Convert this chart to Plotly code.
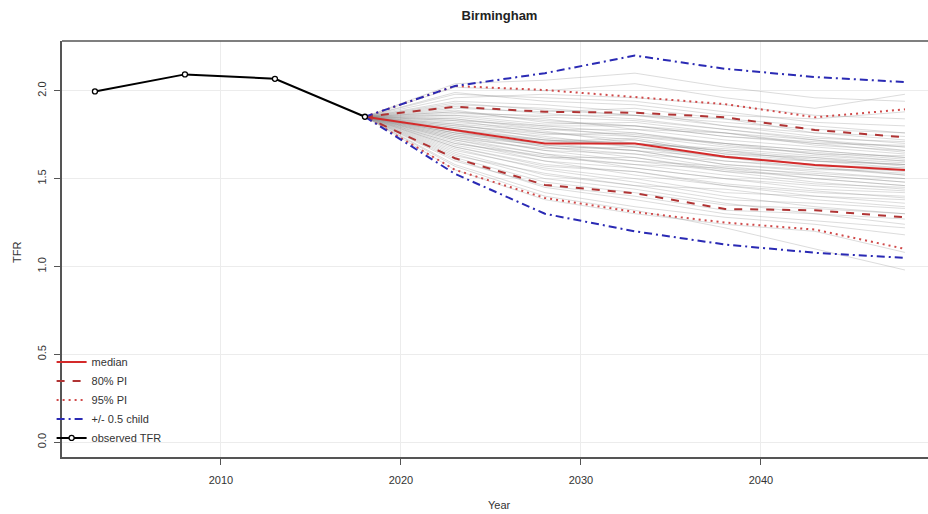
import plotly.graph_objects as go

# ---------------- data ----------------
obs_years = [2003, 2008, 2013, 2018]
obs_tfr = [1.996, 2.093, 2.068, 1.852]

proj_years = [2018, 2023, 2028, 2033, 2038, 2043, 2048]
median = [1.852, 1.777, 1.700, 1.700, 1.625, 1.578, 1.549]
pi80_up = [1.852, 1.909, 1.880, 1.875, 1.849, 1.777, 1.735]
pi80_lo = [1.852, 1.616, 1.464, 1.417, 1.327, 1.320, 1.280]
pi95_up = [1.852, 2.027, 2.004, 1.966, 1.924, 1.849, 1.894]
pi95_lo = [1.852, 1.550, 1.390, 1.310, 1.250, 1.210, 1.100]
half_up = [1.852, 2.027, 2.100, 2.200, 2.125, 2.078, 2.049]
half_lo = [1.852, 1.527, 1.300, 1.200, 1.125, 1.078, 1.049]

# sampled trajectories (values at 2023..2048, all start at the 2018 observed value)
trajectories = [
    [1.78, 1.72, 1.70, 1.66, 1.60, 1.58], [1.83, 1.80, 1.76, 1.70, 1.66, 1.62],
    [1.70, 1.62, 1.58, 1.52, 1.47, 1.45], [1.88, 1.85, 1.83, 1.78, 1.72, 1.68],
    [1.74, 1.66, 1.64, 1.56, 1.53, 1.50], [1.92, 1.90, 1.86, 1.84, 1.76, 1.74],
    [1.65, 1.52, 1.46, 1.38, 1.36, 1.33], [1.80, 1.76, 1.74, 1.70, 1.64, 1.60],
    [1.76, 1.70, 1.72, 1.64, 1.62, 1.57], [1.62, 1.48, 1.42, 1.35, 1.33, 1.30],
    [1.98, 1.96, 1.94, 1.88, 1.82, 1.80], [1.72, 1.64, 1.60, 1.57, 1.52, 1.48],
    [1.85, 1.80, 1.80, 1.74, 1.70, 1.69], [1.79, 1.74, 1.68, 1.60, 1.56, 1.52],
    [1.68, 1.58, 1.54, 1.46, 1.40, 1.38], [1.90, 1.88, 1.90, 1.84, 1.80, 1.76],
    [1.75, 1.70, 1.66, 1.58, 1.55, 1.55], [1.58, 1.42, 1.34, 1.28, 1.24, 1.18],
    [1.82, 1.78, 1.78, 1.72, 1.68, 1.64], [1.77, 1.68, 1.62, 1.55, 1.50, 1.46],
    [2.02, 2.00, 2.04, 1.96, 1.90, 1.98], [1.73, 1.67, 1.68, 1.62, 1.58, 1.56],
    [1.66, 1.56, 1.50, 1.42, 1.40, 1.36], [1.86, 1.84, 1.78, 1.76, 1.72, 1.66],
    [1.81, 1.73, 1.70, 1.67, 1.63, 1.60], [1.71, 1.60, 1.56, 1.50, 1.44, 1.42],
    [1.87, 1.86, 1.86, 1.80, 1.76, 1.72], [1.55, 1.38, 1.30, 1.24, 1.20, 1.08],
    [1.78, 1.71, 1.73, 1.65, 1.61, 1.58], [1.94, 1.92, 1.88, 1.80, 1.74, 1.70],
    [1.69, 1.60, 1.52, 1.46, 1.42, 1.40], [1.84, 1.79, 1.74, 1.68, 1.65, 1.61],
    [1.76, 1.68, 1.64, 1.60, 1.57, 1.52], [1.60, 1.46, 1.40, 1.32, 1.30, 1.27],
    [1.89, 1.82, 1.80, 1.76, 1.70, 1.65], [1.74, 1.69, 1.66, 1.62, 1.60, 1.56],
    [1.80, 1.75, 1.76, 1.69, 1.64, 1.63], [1.67, 1.55, 1.48, 1.40, 1.34, 1.30],
    [1.96, 1.98, 1.96, 1.92, 1.86, 1.84], [1.72, 1.62, 1.62, 1.54, 1.48, 1.44],
    [1.83, 1.76, 1.72, 1.64, 1.60, 1.58], [1.64, 1.50, 1.44, 1.36, 1.30, 1.24],
    [1.79, 1.72, 1.68, 1.63, 1.58, 1.54], [1.91, 1.87, 1.84, 1.78, 1.73, 1.71],
    [1.75, 1.66, 1.60, 1.54, 1.52, 1.48], [1.57, 1.40, 1.32, 1.22, 1.10, 0.98],
    [1.86, 1.81, 1.82, 1.76, 1.69, 1.66], [1.70, 1.63, 1.58, 1.56, 1.50, 1.46],
    [2.04, 2.06, 2.10, 2.02, 1.96, 1.94], [1.77, 1.69, 1.66, 1.58, 1.54, 1.50],
    [1.81, 1.77, 1.70, 1.66, 1.62, 1.59], [1.63, 1.53, 1.46, 1.44, 1.38, 1.34],
    [1.88, 1.83, 1.80, 1.74, 1.71, 1.68], [1.73, 1.64, 1.56, 1.50, 1.46, 1.43],
    [1.93, 1.89, 1.86, 1.82, 1.78, 1.76], [1.61, 1.45, 1.38, 1.30, 1.26, 1.22],
    [1.84, 1.78, 1.75, 1.70, 1.66, 1.62], [1.76, 1.72, 1.69, 1.62, 1.56, 1.53],
    [1.68, 1.57, 1.54, 1.47, 1.43, 1.39], [1.99, 1.94, 1.92, 1.86, 1.84, 1.88],
]

x_ticks = [2010, 2020, 2030, 2040]
y_ticks = [0.0, 0.5, 1.0, 1.5, 2.0]

# ---------------- figure ----------------
FONT = "Liberation Sans, Arial, Helvetica, sans-serif"
fig = go.Figure()

for tr in trajectories:
    fig.add_trace(go.Scatter(
        x=proj_years, y=[obs_tfr[-1]] + tr, mode="lines",
        line=dict(color="rgba(140,140,140,0.3)", width=1),
        showlegend=False, hoverinfo="skip"))

RED = "#d42a2a"
DRED = "#b03434"
PRED = "#d04a4a"
BLUE = "#2a2ab4"

fig.add_trace(go.Scatter(x=proj_years, y=median, mode="lines", name="median",
                         line=dict(color=RED, width=2)))
fig.add_trace(go.Scatter(x=proj_years, y=pi80_up, mode="lines", name="80% PI",
                         legendgroup="80", line=dict(color=DRED, width=2, dash="8px,8px")))
fig.add_trace(go.Scatter(x=proj_years, y=pi80_lo, mode="lines", name="80% PI",
                         legendgroup="80", showlegend=False,
                         line=dict(color=DRED, width=2, dash="8px,8px")))
fig.add_trace(go.Scatter(x=proj_years, y=pi95_up, mode="lines", name="95% PI",
                         legendgroup="95", line=dict(color=PRED, width=2, dash="2px,4px")))
fig.add_trace(go.Scatter(x=proj_years, y=pi95_lo, mode="lines", name="95% PI",
                         legendgroup="95", showlegend=False,
                         line=dict(color=PRED, width=2, dash="2px,4px")))
fig.add_trace(go.Scatter(x=proj_years, y=half_up, mode="lines", name="+/- 0.5 child",
                         legendgroup="half",
                         line=dict(color=BLUE, width=2, dash="8px,4px,2px,4px")))
fig.add_trace(go.Scatter(x=proj_years, y=half_lo, mode="lines", name="+/- 0.5 child",
                         legendgroup="half", showlegend=False,
                         line=dict(color=BLUE, width=2, dash="8px,4px,2px,4px")))
fig.add_trace(go.Scatter(x=obs_years, y=obs_tfr, mode="lines+markers", name="observed TFR",
                         line=dict(color="black", width=2),
                         marker=dict(symbol="circle", size=5, color="white",
                                     line=dict(color="black", width=1.3))))

L, T, B = 62, 41, 57
W, H = 928, 514
pw = W - L
ph = H - T - B
x0 = 2001.17
x1 = x0 + pw / 18.0
y0, y1 = -0.084, 2.283

axis_col = "#555555"
fig.update_layout(
    width=W, height=H,
    margin=dict(l=L, r=0, t=T, b=B, autoexpand=False),
    paper_bgcolor="white", plot_bgcolor="white",
    font=dict(family=FONT, size=11, color="#333333"),
    title=dict(text="<b>Birmingham</b>", x=499.5 / W, xanchor="center",
               y=1 - 15 / H, yanchor="middle", font=dict(size=13, color="#222222")),
    xaxis=dict(range=[x0, x1], tickvals=x_ticks, showgrid=True, gridcolor="#ececec",
               zeroline=False, showline=True, linecolor=axis_col, linewidth=1.5,
               ticks="outside", ticklen=6, tickcolor=axis_col, ticklabelstandoff=6),
    yaxis=dict(range=[y0, y1], tickvals=y_ticks, tickformat=".1f", tickangle=-90,
               showgrid=True, gridcolor="#ececec", zeroline=False,
               showline=True, linecolor=axis_col, linewidth=1.5,
               ticks="outside", ticklen=6, tickcolor=axis_col, ticklabelstandoff=4),
    legend=dict(x=-0.012, y=0.011, xanchor="left", yanchor="bottom",
                bgcolor="rgba(0,0,0,0)", font=dict(size=11, color="#333333"),
                tracegroupgap=0, itemwidth=30),
    showlegend=True,
    shapes=[dict(type="line", xref="paper", yref="paper", x0=0, x1=1, y0=1, y1=1,
                 line=dict(color=axis_col, width=1.5))],
    annotations=[
        dict(text="TFR", xref="paper", yref="paper", x=(17 - L) / pw, y=(H - B - 253) / ph,
             xanchor="center", yanchor="middle", textangle=-90, showarrow=False,
             font=dict(size=11, color="#333333")),
        dict(text="Year", xref="paper", yref="paper", x=(499 - L) / pw, y=(H - B - 505) / ph,
             xanchor="center", yanchor="middle", showarrow=False,
             font=dict(size=11, color="#333333")),
    ],
)

fig.write_html("out.html", config={"displayModeBar": False},
               post_script="document.body.style.margin='0px';document.body.style.overflow='hidden';")
